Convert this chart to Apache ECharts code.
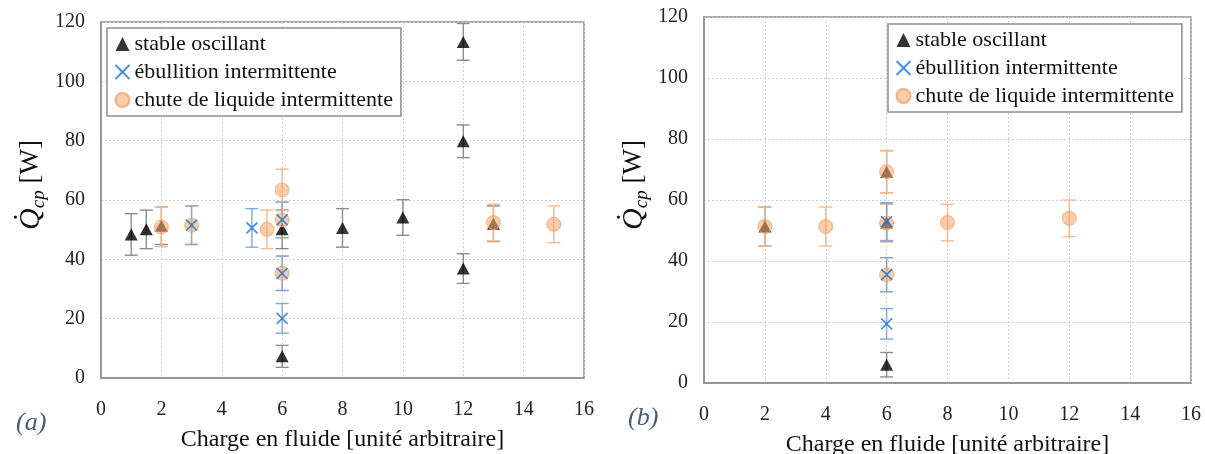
<!DOCTYPE html>
<html><head><meta charset="utf-8">
<script src="https://cdn.jsdelivr.net/npm/echarts@6/dist/echarts.min.js"></script>
<style>html,body{margin:0;padding:0;background:#fff}#c{width:1205px;height:454px}</style>
</head><body><div id="c"></div>
<script>
// ---- Data (x, value, error half-width) ----
const xTickMax = 16, xTickStep = 2, yTickMax = 120, yTickStep = 20;
const seriesNames = ['stable oscillant', 'ébullition intermittente', 'chute de liquide intermittente'];

// panel (a)
const aStableX = [1, 1.5, 2, 6, 6, 8, 10, 12, 12, 12, 13];
const aStableY = [48.4, 50.1, 51.3, 50.1, 7.3, 50.6, 54.1, 113.3, 79.8, 36.9, 52.0];
const aStableE = [7.0, 6.5, 6.3, 6.5, 3.7, 6.5, 6.0, 6.2, 5.5, 5.0, 6.0];
const aEbulX = [3, 5, 6, 6, 6];
const aEbulY = [51.5, 50.6, 53.3, 35.3, 20.1];
const aEbulE = [6.5, 6.5, 6.0, 5.8, 5.0];
const aChuteX = [2, 3, 5.5, 6, 6, 6, 13, 15];
const aChuteY = [50.9, 51.5, 50.1, 63.4, 53.3, 35.3, 52.4, 51.8];
const aChuteE = [6.6, 6.5, 6.5, 7.0, 6.0, 5.8, 6.2, 6.2];

// panel (b)
const bStableX = [2, 6, 6, 6];
const bStableY = [51.3, 69.3, 52.6, 6.0];
const bStableE = [6.4, 6.9, 6.2, 4.0];
const bEbulX = [6, 6, 6];
const bEbulY = [52.9, 35.5, 19.4];
const bEbulE = [6.2, 5.6, 5.0];
const bChuteX = [2, 4, 6, 6, 6, 8, 12];
const bChuteY = [51.3, 51.3, 69.3, 52.4, 35.5, 52.6, 54.0];
const bChuteE = [6.4, 6.4, 6.9, 6.2, 5.6, 6.0, 6.0];

const zip = (xs, ys, es) => xs.map((x, i) => [x, ys[i], es[i]]);

const FONT = '"Liberation Serif", "DejaVu Serif", serif';
const C_BLACK = '#000000', C_BLUE = '#1a74cf', C_OR_FILL = 'rgba(245,168,110,0.72)', C_OR_BORDER = '#f3a46c';
const E_BLACK = '#8c8c8c', E_BLUE = '#7fa8dd', E_OR = '#f6b98c';
const CROSS = 'path://M0,0L10,10M10,0L0,10';

function errSeries(data, color, idx) {
  return {
    type: 'custom', xAxisIndex: idx, yAxisIndex: idx, silent: true, z: 2,
    data: data,
    renderItem: function (params, api) {
      const x = api.value(0), y = api.value(1), e = api.value(2);
      const top = api.coord([x, y + e]), bot = api.coord([x, y - e]);
      const hw = 6.5;
      const st = { stroke: color, lineWidth: 1.4 };
      return { type: 'group', children: [
        { type: 'line', shape: { x1: top[0], y1: top[1], x2: bot[0], y2: bot[1] }, style: st },
        { type: 'line', shape: { x1: top[0] - hw, y1: top[1], x2: top[0] + hw, y2: top[1] }, style: st },
        { type: 'line', shape: { x1: bot[0] - hw, y1: bot[1], x2: bot[0] + hw, y2: bot[1] }, style: st }
      ]};
    }
  };
}
function markerSeries(name, data, idx, kind) {
  const s = { type: 'scatter', name: name, xAxisIndex: idx, yAxisIndex: idx, data: data.map(d => [d[0], d[1]]), z: 3 };
  if (kind === 0) { s.symbol = 'triangle'; s.symbolSize = [13, 12]; s.itemStyle = { color: C_BLACK }; s.z = 3; }
  if (kind === 1) { s.symbol = CROSS; s.symbolSize = 11; s.itemStyle = { color: 'none', borderColor: C_BLUE, borderWidth: 1.7 }; s.z = 5; }
  if (kind === 2) { s.symbol = 'circle'; s.symbolSize = 14; s.itemStyle = { color: C_OR_FILL, borderColor: C_OR_BORDER, borderWidth: 1 }; s.z = 4; }
  return s;
}

function xAx(idx) {
  return {
    type: 'value', gridIndex: idx, min: 0, max: xTickMax, interval: xTickStep,
    name: 'Charge en fluide [unité arbitraire]', nameLocation: 'middle', nameGap: 50,
    nameTextStyle: { fontFamily: FONT, fontSize: 24, color: '#111' },
    axisLine: { show: true, lineStyle: { color: '#8c8c8c', width: 1.5 } },
    axisTick: { show: false },
    axisLabel: { fontFamily: FONT, fontSize: 20, color: '#222', margin: 22 },
    splitLine: { show: true, lineStyle: { color: '#d0d0d0', type: [2, 2], width: 1 } }
  };
}
function yAx(idx) {
  return {
    type: 'value', gridIndex: idx, min: 0, max: yTickMax, interval: yTickStep,
    name: '{q|Q̇}{s|cp}{w| [W]}', nameLocation: 'middle', nameGap: 53, nameRotate: 90,
    nameTextStyle: {
      fontFamily: FONT, color: '#111', padding: [0, 0, 0, 30],
      rich: {
        q: { fontFamily: FONT, fontSize: 30, fontStyle: 'italic', color: '#111', lineHeight: 34 },
        s: { fontFamily: FONT, fontSize: 19, fontStyle: 'italic', color: '#111', verticalAlign: 'bottom', lineHeight: 24, padding: [12, 0, 0, 0] },
        w: { fontFamily: FONT, fontSize: 27, color: '#111', lineHeight: 34 }
      }
    },
    axisLine: { show: true, lineStyle: { color: '#8c8c8c', width: 1.5 } },
    axisTick: { show: false },
    axisLabel: { fontFamily: FONT, fontSize: 20, color: '#222', margin: 16 },
    splitLine: { show: true, lineStyle: { color: '#d0d0d0', type: [2, 2], width: 1 } }
  };
}
function legend(left, top) {
  return {
    show: true, orient: 'vertical', left: left, top: top,
    data: seriesNames.map(n => ({ name: n })),
    itemGap: 6, itemWidth: 14, itemHeight: 14, padding: [5, 8, 5, 6],
    borderColor: '#8c8c8c', borderWidth: 1.5, backgroundColor: '#fff',
    textStyle: { fontFamily: FONT, fontSize: 22, color: '#111' },
    selectedMode: false
  };
}

const chart = echarts.init(document.getElementById('c'), null, { renderer: 'canvas' });
const dA = [zip(aStableX, aStableY, aStableE), zip(aEbulX, aEbulY, aEbulE), zip(aChuteX, aChuteY, aChuteE)];
const dB = [zip(bStableX, bStableY, bStableE), zip(bEbulX, bEbulY, bEbulE), zip(bChuteX, bChuteY, bChuteE)];

const series = [];
[dA, dB].forEach((d, idx) => {
  series.push(errSeries(d[0], E_BLACK, idx));
  series.push(errSeries(d[2], E_OR, idx));
  series.push(errSeries(d[1], E_BLUE, idx));
  series.push(markerSeries(seriesNames[0], d[0], idx, 0));
  series.push(markerSeries(seriesNames[2], d[2], idx, 2));
  series.push(markerSeries(seriesNames[1], d[1], idx, 1));
});

chart.setOption({
  animation: false,
  backgroundColor: '#fff',
  grid: [
    { left: 101, right: 621, top: 22, bottom: 76, outerBoundsMode: 'none', containLabel: false, show: true, borderColor: '#8c8c8c', borderWidth: 1.5 },
    { left: 704, right: 14, top: 17, bottom: 71, outerBoundsMode: 'none', containLabel: false, show: true, borderColor: '#8c8c8c', borderWidth: 1.5 }
  ],
  xAxis: [xAx(0), xAx(1)],
  yAxis: [yAx(0), yAx(1)],
  legend: [legend(107, 28), legend(888, 24)],
  graphic: [
    { type: 'text', left: 16, top: 410, style: { text: '(a)', font: 'italic 26px "Liberation Serif"', fill: '#4a5a78' } },
    { type: 'text', left: 628, top: 405, style: { text: '(b)', font: 'italic 26px "Liberation Serif"', fill: '#4a5a78' } }
  ],
  series: series
});
</script></body></html>
